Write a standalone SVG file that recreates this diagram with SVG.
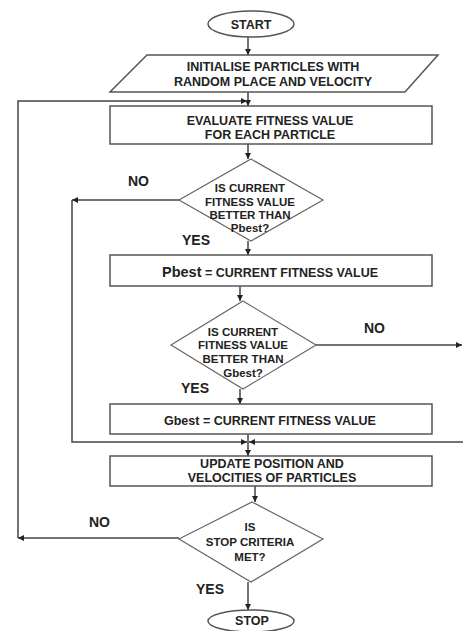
<svg xmlns="http://www.w3.org/2000/svg" width="463" height="631" viewBox="0 0 463 631">
<defs>
<marker id="ah" viewBox="0 0 10 10" refX="10" refY="5" markerWidth="6" markerHeight="6" orient="auto" markerUnits="userSpaceOnUse">
<path d="M0,0 L10,5 L0,10 z" fill="#222"/>
</marker>
</defs>
<style>
.sh{fill:#fff;stroke:#555;stroke-width:1.5}
.dm{fill:#fff;stroke:#666;stroke-width:1.2}
.t{font-family:"Liberation Sans",Arial,sans-serif;font-weight:bold;font-size:12.5px;fill:#222;text-anchor:middle}
.d{font-family:"Liberation Sans",Arial,sans-serif;font-weight:bold;font-size:11.5px;fill:#222;text-anchor:middle}
.l{font-family:"Liberation Sans",Arial,sans-serif;font-weight:bold;font-size:14px;fill:#222}
.c{fill:none;stroke:#444;stroke-width:1.5}
</style>
<rect width="463" height="631" fill="#fff"/>
<g id="connectors">
<path class="c" d="M248,37 V55" marker-end="url(#ah)"/>
<path class="c" d="M248,92 V106" marker-end="url(#ah)"/>
<path class="c" d="M179,538 H18" marker-end="url(#ah)"/>
<path class="c" d="M18,538 V101 H247" marker-end="url(#ah)"/>
<path class="c" d="M248,144 V159" marker-end="url(#ah)"/>
<path class="c" d="M179,200 H72" marker-end="url(#ah)"/>
<path class="c" d="M72,200 V442 H247" marker-end="url(#ah)"/>
<path class="c" d="M248,241 V255" marker-end="url(#ah)"/>
<path class="c" d="M240,286 V301" marker-end="url(#ah)"/>
<path class="c" d="M316,345 H462" marker-end="url(#ah)"/>
<path class="c" d="M463,442 H249" marker-end="url(#ah)"/>
<path class="c" d="M240,389 V404" marker-end="url(#ah)"/>
<path class="c" d="M248,434 V456" marker-end="url(#ah)"/>
<path class="c" d="M255,486 V502" marker-end="url(#ah)"/>
<path class="c" d="M248,582 V610" marker-end="url(#ah)"/>
</g>
<g id="start">
<ellipse class="sh" cx="251" cy="24" rx="43" ry="13"/>
<text class="t" x="251" y="28.5">START</text>
</g>
<g id="init">
<polygon class="sh" points="147,55 438,55 405,92 110,92"/>
<text class="t" x="273" y="71">INITIALISE PARTICLES WITH</text>
<text class="t" x="273" y="86">RANDOM PLACE AND VELOCITY</text>
</g>
<g id="evaluate">
<rect class="sh" x="110" y="106" width="322" height="38"/>
<text class="t" x="270" y="125">EVALUATE FITNESS VALUE</text>
<text class="t" x="270" y="139">FOR EACH PARTICLE</text>
</g>
<g id="decision-pbest">
<polygon class="dm" points="251,159 323,200 251,241 179,200"/>
<text class="d" x="250" y="192">IS CURRENT</text>
<text class="d" x="250" y="206">FITNESS VALUE</text>
<text class="d" x="250" y="219">BETTER THAN</text>
<text class="d" x="250" y="232">Pbest?</text>
<text class="l" x="128" y="186">NO</text>
<text class="l" x="182" y="245">YES</text>
</g>
<g id="pbest">
<rect class="sh" x="110" y="255" width="322" height="31"/>
<text class="t" x="270" y="277"><tspan font-size="14.5px">Pbest</tspan> = CURRENT FITNESS VALUE</text>
</g>
<g id="decision-gbest">
<polygon class="dm" points="243,301 316,345 243,389 171,345"/>
<text class="d" x="243" y="336">IS CURRENT</text>
<text class="d" x="243" y="349">FITNESS VALUE</text>
<text class="d" x="243" y="363">BETTER THAN</text>
<text class="d" x="243" y="377">Gbest?</text>
<text class="l" x="364" y="333">NO</text>
<text class="l" x="181" y="393">YES</text>
</g>
<g id="gbest">
<rect class="sh" x="110" y="404" width="322" height="30"/>
<text class="t" x="270" y="425">Gbest = CURRENT FITNESS VALUE</text>
</g>
<g id="update">
<rect class="sh" x="110" y="456" width="322" height="30"/>
<text class="t" x="272" y="468">UPDATE POSITION AND</text>
<text class="t" x="272" y="482">VELOCITIES OF PARTICLES</text>
</g>
<g id="decision-stop">
<polygon class="dm" points="252,502 323,539 251,582 179,539"/>
<text class="d" x="250" y="531">IS</text>
<text class="d" x="250" y="546">STOP CRITERIA</text>
<text class="d" x="250" y="561">MET?</text>
<text class="l" x="89" y="527">NO</text>
<text class="l" x="196" y="594">YES</text>
</g>
<g id="stop">
<ellipse class="sh" cx="251" cy="621" rx="43" ry="11"/>
<text class="t" x="252" y="625">STOP</text>
</g>
</svg>
